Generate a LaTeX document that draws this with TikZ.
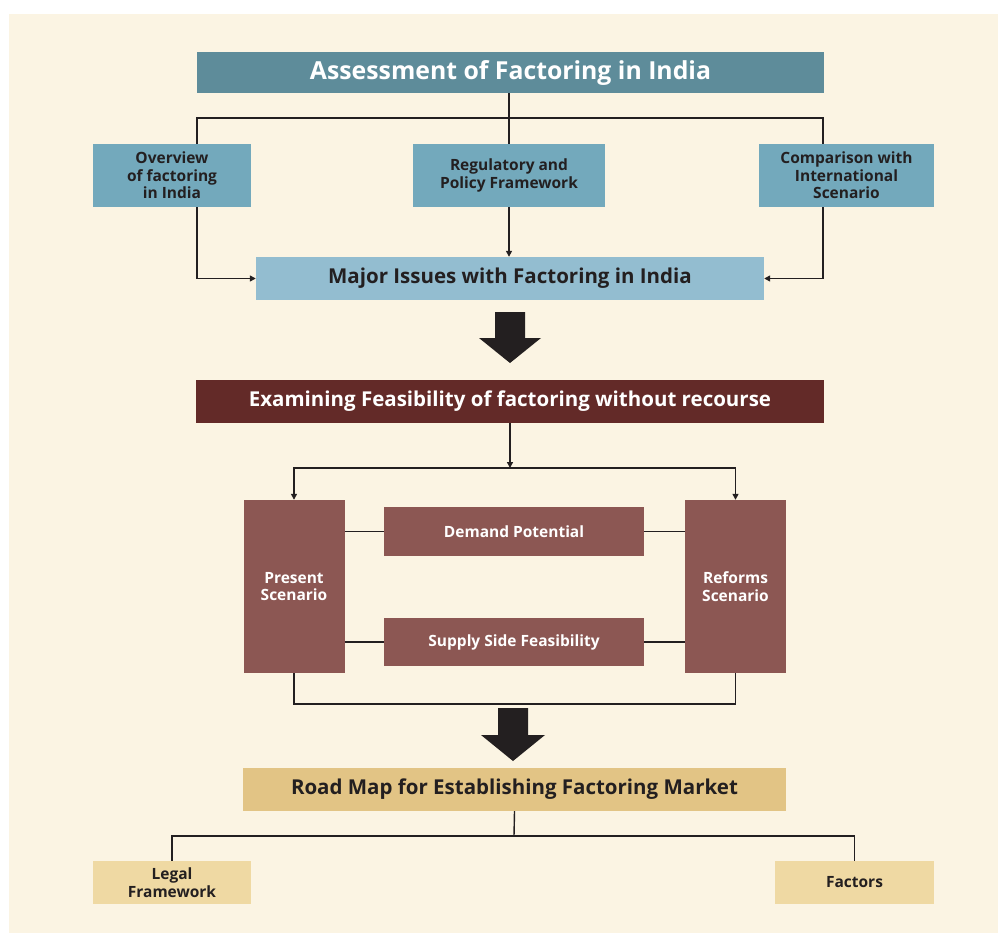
\documentclass[tikz,border=0pt]{standalone}
\usepackage{fontspec}
\setmainfont{Open Sans}
\usetikzlibrary{arrows.meta}
\definecolor{bgcream}{HTML}{FBF4E3}
\definecolor{tealdark}{HTML}{5E8C9A}
\definecolor{tealmid}{HTML}{73A9BC}
\definecolor{teallight}{HTML}{93BDD0}
\definecolor{maroon}{HTML}{632A28}
\definecolor{brownbox}{HTML}{8C5753}
\definecolor{sanddark}{HTML}{E2C485}
\definecolor{sandlight}{HTML}{EFD9A3}
\definecolor{ink}{HTML}{231F20}
\tikzset{
  box/.style={rectangle, inner sep=2pt, align=center, text=ink},
  bigtext/.style={font=\bfseries\fontsize{20.5}{24}\selectfont},
  smalltext/.style={font=\bfseries\fontsize{15.5}{17.5}\selectfont},
  wire/.style={draw=ink, line width=1.4pt},
  arr/.style={wire, -{Triangle[length=6pt,width=6pt]}},
  bigarrow/.style={fill=ink, draw=none},
}
\begin{document}
\begin{tikzpicture}[x=1pt,y=-1pt]
\useasboundingbox (0,0) rectangle (998,933);
\fill[white] (0,0) rectangle (998,933);
\fill[bgcream] (9,14) rectangle (998,933);

% assessment section
\node[box, fill=tealdark, text=white, minimum width=627pt, minimum height=41pt, font=\bfseries\fontsize{24.8}{28}\selectfont] (top) at (510.5,72.5) {Assessment of Factoring in India};
\node[box, fill=tealmid, minimum width=158pt, minimum height=63pt, smalltext] (ov) at (172,175.5) {Overview\\of factoring\\in India};
\node[box, fill=tealmid, minimum width=192pt, minimum height=63pt, smalltext] (reg) at (509,175.5) {Regulatory and\\Policy Framework};
\node[box, fill=tealmid, minimum width=175pt, minimum height=63pt, smalltext] (cmp) at (846.5,175.5) {Comparison with\\International\\Scenario};
\node[box, fill=teallight, minimum width=508pt, minimum height=43pt, bigtext] (maj) at (510,278.5) {Major Issues with Factoring in India};

\coordinate (jl) at (197,118);
\coordinate (jr) at (823,118);
\draw[wire] (top.south -| reg.north) -- (reg.north);
\draw[wire] (jl |- ov.north) -- (jl) -- (jr) -- (jr |- cmp.north);
\draw[arr] (jl |- ov.south) |- (maj.west);
\draw[arr] (jr |- cmp.south) |- (maj.east);
\draw[arr] (reg.south) -- (reg.south |- maj.north);

% first block arrow
\fill[bigarrow] (495,312) -- (525,312) -- (525,338) -- (541,338) -- (510,363) -- (479,338) -- (495,338) -- cycle;

% feasibility section
\node[box, fill=maroon, text=white, minimum width=628pt, minimum height=43pt, bigtext] (exa) at (510,401.5) {Examining Feasibility of factoring without recourse};
\node[box, fill=brownbox, text=white, minimum width=101pt, minimum height=173pt, smalltext] (pres) at (294,586.5) {Present\\Scenario};
\node[box, fill=brownbox, text=white, minimum width=101pt, minimum height=173pt, smalltext] (ref) at (735.5,586.5) {Reforms\\Scenario};
\node[box, fill=brownbox, text=white, minimum width=260pt, minimum height=49pt, smalltext] (dem) at (514,531.5) {Demand Potential};
\node[box, fill=brownbox, text=white, minimum width=260pt, minimum height=48pt, smalltext] (sup) at (514,642) {Supply Side Feasibility};

\coordinate (split) at (510,468);
\draw[arr] (exa.south) -- (split);
\draw[arr] (split) -| (pres.north);
\draw[arr] (split) -| (ref.north);
\draw[wire] (pres.east |- dem.west) -- (dem.west);
\draw[wire] (dem.east) -- (ref.west |- dem.east);
\draw[wire] (pres.east |- sup.west) -- (sup.west);
\draw[wire] (sup.east) -- (ref.west |- sup.east);
\coordinate (merge) at (294,704);
\draw[wire] (pres.south) -- (merge) -| (ref.south);

% second block arrow
\fill[bigarrow] (498,708) -- (528,708) -- (528,735) -- (545,735) -- (513,761) -- (481,735) -- (498,735) -- cycle;

% road map section
\node[box, fill=sanddark, minimum width=543pt, minimum height=43pt, bigtext] (road) at (514.5,789.5) {Road Map for Establishing Factoring Market};
\node[box, fill=sandlight, minimum width=158pt, minimum height=43pt, smalltext] (legal) at (172,882.5) {Legal\\Framework};
\node[box, fill=sandlight, minimum width=159pt, minimum height=43pt, smalltext] (fac) at (854.5,882.5) {Factors};

\coordinate (fork) at (514,836);
\draw[wire] (road.south) -- (fork);
\draw[wire] (legal.north) |- (fork) -| (fac.north);
\end{tikzpicture}
\end{document}
